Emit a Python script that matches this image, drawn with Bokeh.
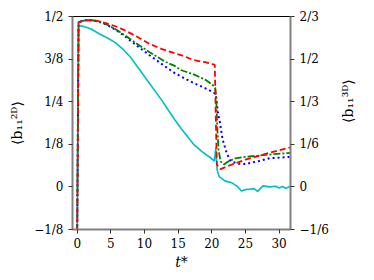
import math
from bokeh.plotting import figure
from bokeh.models import Range1d, LinearAxis, FixedTicker
from bokeh.embed import file_html
from bokeh.resources import INLINE

# ---- data ----
t_red = [0, 0.2, 0.6, 1.0, 1.5, 2.2, 3.0, 4.0, 5.0, 6.0, 7.0, 8.5, 10.7, 12.5, 14.5, 15.4, 17.3, 19.0, 20.1, 20.45, 20.6, 20.75, 21.3, 22.5, 25.0, 28.0, 31.7]
v_red = [-0.13, 0.483, 0.486, 0.488, 0.489, 0.489, 0.487, 0.482, 0.476, 0.469, 0.46, 0.445, 0.42, 0.405, 0.392, 0.387, 0.372, 0.366, 0.36, 0.358, 0.2, 0.065, 0.052, 0.062, 0.08, 0.097, 0.116]

t_green = [0, 0.2, 0.6, 1.0, 1.5, 2.2, 3.0, 4.0, 5.0, 6.0, 7.0, 8.5, 10.7, 13.1, 14.5, 15.4, 17.3, 19.0, 20.1, 20.5, 20.65, 20.8, 21.0, 21.3, 21.8, 22.5, 23.5, 25.0, 28.0, 31.7]
v_green = [-0.13, 0.483, 0.486, 0.488, 0.489, 0.489, 0.486, 0.48, 0.47, 0.459, 0.446, 0.425, 0.396, 0.367, 0.355, 0.343, 0.33, 0.315, 0.30, 0.29, 0.27, 0.18, 0.11, 0.075, 0.066, 0.075, 0.084, 0.088, 0.094, 0.10]

t_blue = [0, 0.2, 0.6, 1.0, 1.5, 2.2, 3.0, 4.0, 5.0, 6.0, 7.0, 8.5, 10.7, 13.1, 14.5, 15.4, 17.3, 19.0, 20.1, 20.6, 20.9, 21.2, 21.6, 22.2, 22.8, 24.0, 25.0, 27.0, 28.6, 31.7]
v_blue = [-0.13, 0.483, 0.486, 0.488, 0.489, 0.489, 0.486, 0.479, 0.469, 0.457, 0.443, 0.42, 0.387, 0.353, 0.334, 0.324, 0.305, 0.29, 0.279, 0.272, 0.22, 0.19, 0.14, 0.10, 0.075, 0.068, 0.067, 0.076, 0.084, 0.088]

t_cyan = [0, 0.2, 1.0, 2.0, 3.2, 4.5, 5.6, 6.8, 7.9, 9.3, 10.7, 12.5, 14.5, 15.5, 17.3, 18.5, 19.7, 20.4, 20.6, 20.8, 21.1, 22.0, 23.0, 23.9, 24.4, 25.0, 25.8, 26.3, 26.8, 27.6, 28.6, 29.5, 30.0, 30.5, 31.0, 31.7]
v_cyan = [-0.13, 0.473, 0.471, 0.464, 0.45, 0.437, 0.424, 0.404, 0.381, 0.343, 0.305, 0.256, 0.197, 0.17, 0.125, 0.104, 0.087, 0.076, 0.116, 0.05, 0.03, 0.017, 0.012, 0.0, -0.012, -0.008, -0.006, -0.005, -0.013, 0.003, 0.0, 0.002, -0.003, 0.001, -0.004, 0.002]

left_ticks = [-0.125, 0.0, 0.125, 0.25, 0.375, 0.5]
left_labels = ["\u22121/8", "0", "1/8", "1/4", "3/8", "1/2"]
right_ticks = [-1/6, 0.0, 1/6, 1/3, 1/2, 2/3]
right_labels = ["\u22121/6", "0", "1/6", "1/3", "1/2", "2/3"]
x_ticks = [0, 5, 10, 15, 20, 25, 30]

FONT = "DejaVu Serif"
SPINE = "#808080"

p = figure(width=366, height=272, output_backend="svg", toolbar_location=None,
           x_range=Range1d(-0.7, 31.7), y_range=Range1d(-0.125, 0.5),
           min_border_left=72, min_border_right=64, min_border_top=16, min_border_bottom=41)
p.extra_y_ranges = {"r": Range1d(-1/6, 2/3)}
p.xgrid.visible = False
p.ygrid.visible = False
p.outline_line_color = "black"
p.outline_line_width = 1
p.background_fill_color = "white"
p.border_fill_color = "white"

p.line(t_cyan, v_cyan, line_color="#00bfbf", line_width=1.6)
p.line(t_blue, v_blue, line_color="#0000ff", line_width=2.0, line_dash="2 3")
p.line(t_green, v_green, line_color="#008000", line_width=1.8, line_dash="7 2 2 2")
p.line(t_red, v_red, line_color="#ff0000", line_width=1.8, line_dash="6 3")

rax = LinearAxis(y_range_name="r")
p.add_layout(rax, "right")

def style(ax):
    ax.axis_line_color = SPINE
    ax.axis_line_width = 2
    ax.major_tick_line_color = "#333333"
    ax.major_tick_out = 4
    ax.major_tick_in = 0
    ax.minor_tick_line_color = None
    ax.major_label_text_font = FONT
    ax.major_label_text_font_size = "12px"
    ax.major_label_text_color = "black"
    ax.axis_label_text_font = FONT
    ax.axis_label_text_font_size = "14px"
    ax.axis_label_text_font_style = "normal"
    ax.axis_label_text_color = "black"

for ax in [p.xaxis[0], p.yaxis[0], rax]:
    style(ax)

p.yaxis[0].ticker = FixedTicker(ticks=left_ticks)
p.yaxis[0].major_label_overrides = dict(zip(left_ticks, left_labels))
p.yaxis[0].axis_label = "\u27e8b\u2081\u2081\u00b2\u1d30\u27e9"
p.yaxis[0].axis_label_standoff = 6

rax.ticker = FixedTicker(ticks=right_ticks)
rax.major_label_overrides = dict(zip(right_ticks, right_labels))
rax.axis_label = "\u27e8b\u2081\u2081\u00b3\u1d30\u27e9"
rax.axis_label_standoff = 16
try:
    rax.axis_label_orientation = math.pi / 2
except Exception:
    pass

p.xaxis[0].ticker = FixedTicker(ticks=x_ticks)
p.xaxis[0].axis_label = "t*"
p.xaxis[0].axis_label_text_font_style = "italic"
p.xaxis[0].axis_label_standoff = 3
p.xaxis[0].major_label_standoff = 4

open("out.html", "w").write(file_html(p, INLINE))
